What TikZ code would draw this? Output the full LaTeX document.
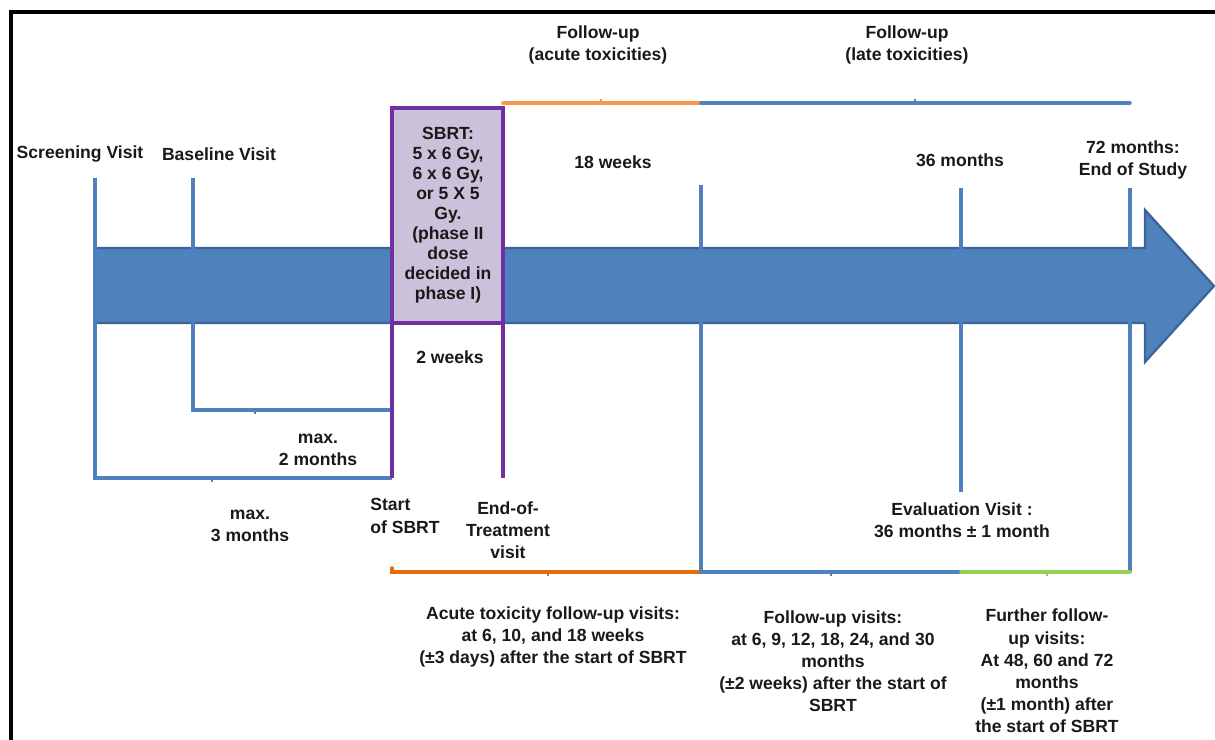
\documentclass[tikz,border=0pt]{standalone}
\usepackage{fontspec}
\setmainfont{Liberation Sans}
\usetikzlibrary{positioning}
\definecolor{tlblue}{HTML}{4F81BD}
\definecolor{tldark}{HTML}{3C6497}
\definecolor{sbrtline}{HTML}{7030A0}
\definecolor{sbrtfill}{HTML}{CCC1DA}
\definecolor{acute}{HTML}{F79646}
\definecolor{acutedark}{HTML}{E46C0A}
\definecolor{further}{HTML}{92D050}

\tikzset{
  lbl/.style={font=\bfseries\fontsize{10}{12.6}\selectfont,align=center,inner sep=0pt,text=black!90},
  mark line/.style={tlblue,line width=2.5pt},
  brace line/.style={line width=2pt,line cap=round},
  sbrt line/.style={sbrtline,line width=2.7pt}
}

\begin{document}
\begin{tikzpicture}[x=0.02cm,y=-0.02cm]
\useasboundingbox (0,0) rectangle (1215,740);
\draw[line width=2.2pt] (11,760) |- (1240,12);

% time points
\coordinate (scr) at (95,178);
\coordinate (base) at (193,178);
\coordinate (start) at (392,323);
\coordinate (eot) at (503,323);
\coordinate (wk18) at (701,185);
\coordinate (mo36) at (961,188);
\coordinate (mo72) at (1130,188);

% the time arrow
\filldraw[fill=tlblue,draw=tldark,line width=1.3pt]
  (95,248) -- (1145,248) -- (1145,210) -- (1214,286) -- (1145,362) -- (1145,323) -- (95,323) -- cycle;

% screening and baseline
\draw[mark line] (scr) -- (scr|-0,478) -- (start|-0,478) coordinate (m3);
\draw[mark line] (base) -- (base|-0,410) -- (start|-0,410) coordinate (m2);
\draw[tlblue,line width=1.4pt] (212,478) -- ++(0,4);
\draw[tlblue,line width=1.4pt] (255,410) -- ++(0,4);

% SBRT
\draw[sbrt line,fill=sbrtfill] (392,108) rectangle (503,323);
\draw[sbrt line] (start) -- (m3);
\draw[sbrt line] (eot) -- (eot|-0,478);

% follow-up marks
\draw[mark line] (wk18) -- (wk18|-0,572) coordinate (wk18b);
\draw[mark line] (mo36) -- (mo36|-0,492);
\draw[mark line] (mo72) -- (mo72|-0,572) coordinate (mo72b);

% upper braces
\draw[brace line,acute] (503,103) -- (701,103);
\draw[brace line,tlblue] (701,103) -- (1130,103);
\draw[acute,line width=1.4pt] (601,103) -- ++(0,-4);
\draw[tlblue,line width=1.4pt] (915,103) -- ++(0,-4);

% lower braces
\draw[brace line,acutedark] (392,568) -- (392,572) -- (wk18b);
\draw[brace line,tlblue] (wk18b) -- (961,572);
\draw[brace line,further] (961,572) -- (mo72b);
\draw[acutedark,line width=1.4pt] (548,572) -- ++(0,4);
\draw[tlblue,line width=1.4pt] (831,572) -- ++(0,4);
\draw[further,line width=1.4pt] (1047,572) -- ++(0,4);

% labels
\node[lbl] (scrl) at (80,154) {Screening Visit};
\node[lbl] (basel) at (219,154) {Baseline Visit};
\node[lbl,font=\bfseries\fontsize{10}{11.4}\selectfont] (sbrt) at (448,215)
  {SBRT:\\5 x 6 Gy,\\6 x 6 Gy,\\or 5 X 5\\Gy.\\(phase II\\dose\\decided in\\phase I)};
\node[lbl] (w2) at (450,357) {2 weeks};
\node[lbl] (fa) at (598,45) {Follow-up\\(acute toxicities)};
\node[lbl] (fl) at (907,45) {Follow-up\\(late toxicities)};
\node[lbl] (w18) at (613,162) {18 weeks};
\node[lbl] (m36) at (960,160) {36 months};
\node[lbl] (m72) at (1133,160) {72 months:\\End of Study};
\node[lbl] (max2) at (318,450) {max.\\2 months};
\node[lbl] (max3) at (250,526) {max.\\3 months};
\node[lbl,align=left] (startl) at (405,516) {Start\\of SBRT};
\node[lbl] (eotl) at (508,530) {End-of-\\Treatment\\visit};
\node[lbl] (eval) at (962,520) {Evaluation Visit :\\36 months ± 1 month};
\node[lbl] (acl) at (553,637)
  {Acute toxicity follow-up visits:\\at 6, 10, and 18 weeks\\(±3 days) after the start of SBRT};
\node[lbl] (ful) at (833,661)
  {Follow-up visits:\\at 6, 9, 12, 18, 24, and 30\\months\\(±2 weeks) after the start of\\SBRT};
\node[lbl] (ffl) at (1047,671)
  {Further follow-\\up visits:\\At 48, 60 and 72\\months\\(±1 month) after\\the start of SBRT};
\end{tikzpicture}
\end{document}
